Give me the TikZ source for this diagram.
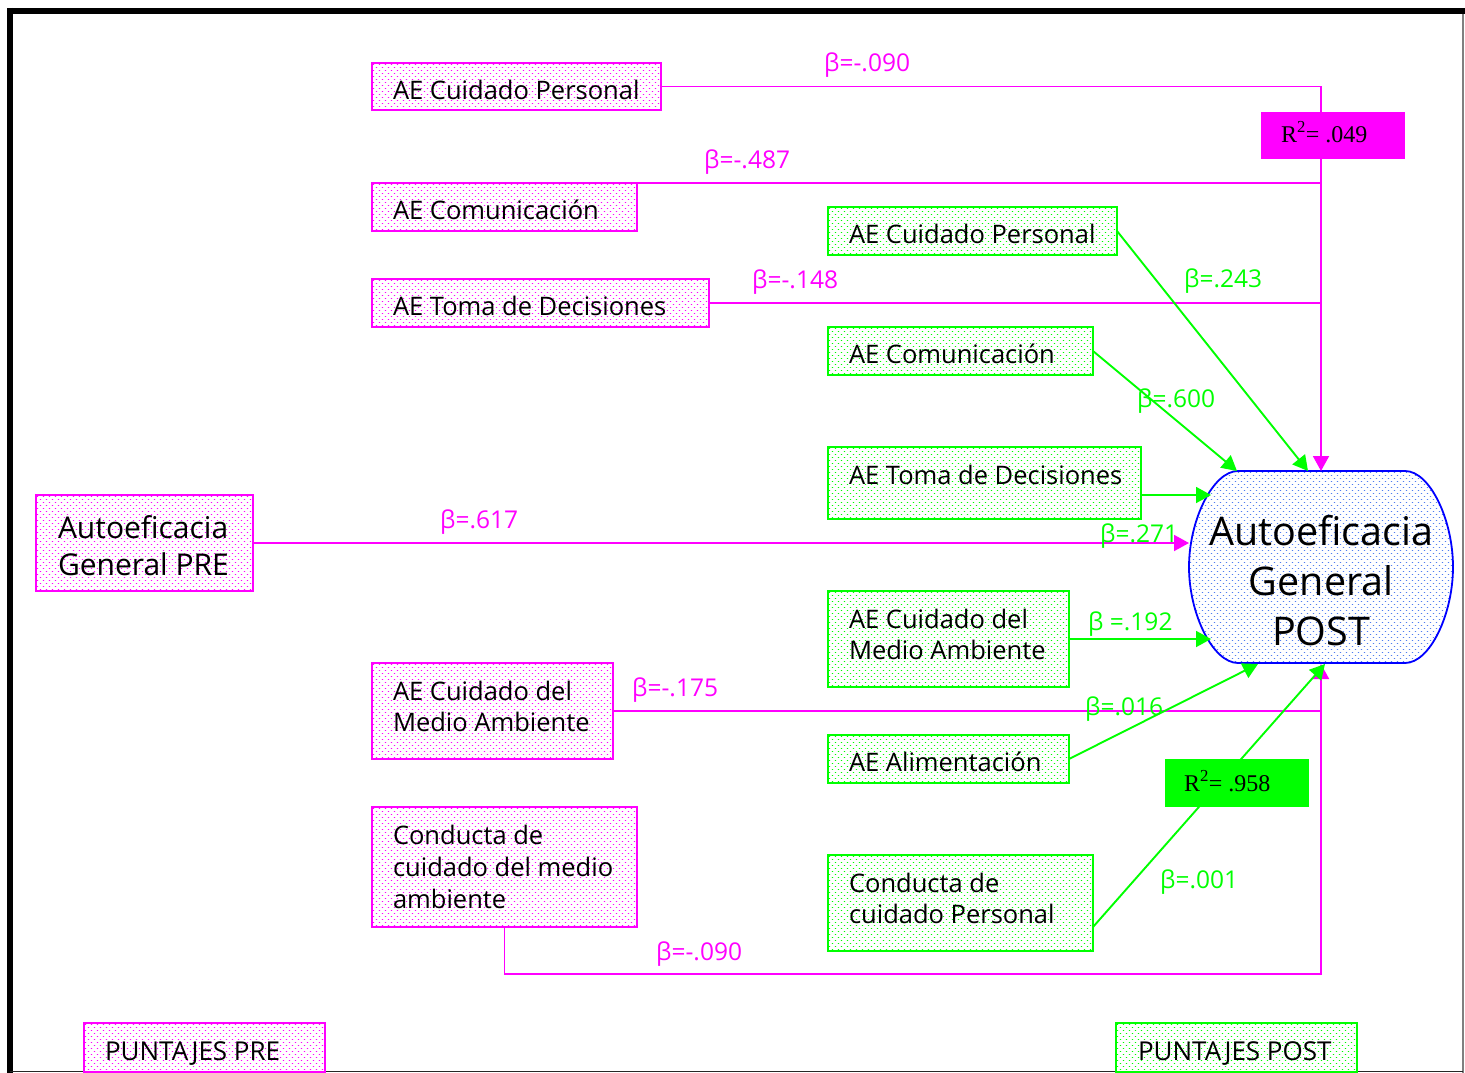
\documentclass[tikz,border=0pt]{standalone}
\usepackage{fontspec}
\setmainfont{Open Sans}
\newfontfamily\tnr{Liberation Serif}
\usetikzlibrary{arrows.meta}

\definecolor{mag}{RGB}{255,0,255}
\definecolor{grn}{RGB}{0,255,0}
\definecolor{blu}{RGB}{0,0,255}
\definecolor{bludot}{RGB}{80,125,240}

% staggered dot screen inside the current clip: colour, x0, y0, x1, y1
\newcommand\screen[5]{%
  \pgfmathtruncatemacro\scrn{(#5-#3)/3}%
  \foreach \j in {0,...,\scrn}{%
    \pgfmathsetmacro\scry{#3+1.5+3*\j}%
    \pgfmathsetmacro\scrx{#2+1.5+3*mod(\j,2)}%
    \draw[#1, line width=1.7pt, line cap=round, dash pattern=on 0.01pt off 5.99pt]
      (\scrx,\scry) -- (#4,\scry);
  }}
% dotted background of a box: colour, x, y, width, height
\newcommand\boxscreen[5]{%
  \begin{scope}
    \clip (#2,#3) rectangle ++(#4,#5);
    \screen{#1}{#2}{#3}{#2+#4}{#3+#5}
  \end{scope}}

% fixed-size text block: width, height, left pad, first baseline, text
\newcommand\boxtext[5]{\parbox[c][#2][t]{#1}{\raggedright\leftskip=#3\relax\parindent=0pt\rule{0pt}{#4}#5\par}}

\tikzset{
  prebox/.style={draw=mag, line width=1.8pt,
    anchor=north west, inner sep=0pt, outer sep=0pt, font=\fontsize{25.5}{31}\selectfont},
  postbox/.style={draw=grn, line width=1.8pt,
    anchor=north west, inner sep=0pt, outer sep=0pt, font=\fontsize{25.5}{31}\selectfont},
  rbox/.style={anchor=north west, inner sep=0pt, outer sep=0pt, font=\tnr\fontsize{24}{28}\selectfont},
  mline/.style={draw=mag, line width=1.9pt},
  gline/.style={draw=grn, line width=1.9pt},
  tip/.style={-{Triangle[length=15pt,width=16pt]}},
  mbeta/.style={text=mag, anchor=base west, inner sep=0pt, font=\fontsize{24.5}{26}\selectfont},
  gbeta/.style={text=grn, anchor=base west, inner sep=0pt, font=\fontsize{24.5}{26}\selectfont}
}

\begin{document}
\begin{tikzpicture}[x=1pt,y=-1pt]
\useasboundingbox (0,0) rectangle (1465,1073);

% page frame
\draw[line width=6pt] (7,11) -- (1465,11);
\draw[line width=6pt] (10,8) -- (10,1073);
\draw[gray, line width=1.5pt] (1463,14) -- (1463,1073);
\draw[black!85, line width=1.5pt] (10,1071.5) -- (1463,1071.5);

% dotted box backgrounds
\boxscreen{mag}{372}{63}{289}{47}
\boxscreen{mag}{372}{183}{265}{48}
\boxscreen{mag}{372}{279}{337}{48}
\boxscreen{mag}{36}{495}{217}{96}
\boxscreen{mag}{372}{663}{241}{96}
\boxscreen{mag}{372}{807}{265}{120}
\boxscreen{mag}{84}{1023}{241}{49}
\boxscreen{grn}{828}{207}{289}{48}
\boxscreen{grn}{828}{327}{265}{48}
\boxscreen{grn}{828}{447}{313}{72}
\boxscreen{grn}{828}{591}{241}{96}
\boxscreen{grn}{828}{735}{241}{48}
\boxscreen{grn}{828}{855}{265}{96}
\boxscreen{grn}{1116}{1023}{241}{49}

% outcome shape
\def\postoutline{(1238,471) -- (1405,471)
  .. controls (1430,471) and (1453,520) .. (1453,567)
  .. controls (1453,614) and (1430,663) .. (1405,663)
  -- (1238,663)
  .. controls (1213,663) and (1189,614) .. (1189,567)
  .. controls (1189,520) and (1213,471) .. (1238,471) -- cycle}
\begin{scope}
  \clip \postoutline;
  \screen{bludot}{1189}{471}{1453}{663}
\end{scope}
\draw[blu, line width=1.8pt] \postoutline;
\node[anchor=north west, inner sep=0pt, font=\fontsize{39.5}{50}\selectfont] (post) at (1189,471)
  {\parbox[c][192pt][t]{264pt}{\centering\rule{0pt}{74pt}Autoeficacia\\General\\POST\par}};

% arrow end points on the outcome shape
\coordinate (tipA) at (1321,471);
\coordinate (tipB) at (1308,471);
\coordinate (tipC) at (1237,471);
\coordinate (tipD) at (1211,495);
\coordinate (tipW) at (1189,543);
\coordinate (tipE) at (1211,639);
\coordinate (tipF) at (1258,664);
\coordinate (tipS) at (1321,664);
\coordinate (tipG) at (1325,664);
% junctions on the magenta collector line
\coordinate (j2) at (1321,183);
\coordinate (j3) at (1321,303);
\coordinate (j5) at (1321,711);
\coordinate (j6) at (1321,974);

% pre-test predictors
\node[prebox] (p1) at (372,63)  {\boxtext{289pt}{47pt}{21pt}{36pt}{AE Cuidado Personal}};
\node[prebox] (p2) at (372,183) {\boxtext{265pt}{48pt}{21pt}{36pt}{AE Comunicación}};
\node[prebox] (p3) at (372,279) {\boxtext{337pt}{48pt}{21pt}{36pt}{AE Toma de Decisiones}};
\node[prebox, font=\fontsize{30}{37}\selectfont] (p4) at (36,495) {\boxtext{217pt}{96pt}{22pt}{43pt}{Autoeficacia\\General PRE}};
\node[prebox] (p5) at (372,663) {\boxtext{241pt}{96pt}{21pt}{37pt}{AE Cuidado del\\Medio Ambiente}};
\node[prebox, font=\fontsize{25.5}{32}\selectfont] (p6) at (372,807) {\boxtext{265pt}{120pt}{21pt}{37pt}{Conducta de\\cuidado del medio\\ambiente}};
\node[prebox, font=\fontsize{26}{31}\selectfont] (p7) at (84,1023) {\boxtext{241pt}{49pt}{21pt}{37pt}{PUNTAJES PRE}};

% post-test predictors
\node[postbox] (g1) at (828,207) {\boxtext{289pt}{48pt}{21pt}{36pt}{AE Cuidado Personal}};
\node[postbox] (g2) at (828,327) {\boxtext{265pt}{48pt}{21pt}{36pt}{AE Comunicación}};
\node[postbox] (g3) at (828,447) {\boxtext{313pt}{72pt}{21pt}{37pt}{AE Toma de Decisiones}};
\node[postbox] (g4) at (828,591) {\boxtext{241pt}{96pt}{21pt}{37pt}{AE Cuidado del\\Medio Ambiente}};
\node[postbox] (g5) at (828,735) {\boxtext{241pt}{48pt}{21pt}{36pt}{AE Alimentación}};
\node[postbox] (g6) at (828,855) {\boxtext{265pt}{96pt}{21pt}{37pt}{Conducta de\\cuidado Personal}};
\node[postbox, font=\fontsize{26}{31}\selectfont] (g7) at (1116,1023) {\boxtext{241pt}{49pt}{22pt}{37pt}{PUNTAJES POST}};

% magenta paths
\draw[mline,tip] (p1.east) -| (tipA);
\draw[mline] (p2.north east) -- (j2);
\draw[mline] (p3.east) -- (j3);
\draw[mline,tip] (p4.east) -- (tipW);
\draw[mline] (p5.east) -- (j5);
\draw[mline,tip] (p6.south) |- (j6) -- (tipS);

% green paths
\draw[gline,tip] (g1.east) -- (tipB);
\draw[gline,tip] (g2.east) -- (tipC);
\draw[gline,tip] ([yshift=-12pt]g3.east) -- (tipD);
\draw[gline,tip] (g4.east) -- (tipE);
\draw[gline,tip] (g5.east) -- (tipF);
\draw[gline,tip] ([yshift=-24pt]g6.east) -- (tipG);

% explained variance
\node[rbox, fill=mag] (r1) at (1261,112) {\boxtext{144pt}{47pt}{20pt}{30pt}{R\textsuperscript{2}= .049}};
\node[rbox, fill=grn] (r2) at (1165,759) {\boxtext{144pt}{48pt}{19pt}{32pt}{R\textsuperscript{2}= .958}};

% coefficients
\node[mbeta] (m1) at (824,72)  {β=-.090};
\node[mbeta] (m2) at (704,168) {β=-.487};
\node[mbeta] (m3) at (752,288) {β=-.148};
\node[mbeta] (m4) at (440,528) {β=.617};
\node[mbeta] (m5) at (632,696) {β=-.175};
\node[mbeta] (m6) at (656,960) {β=-.090};
\node[gbeta] (c1) at (1184,287) {β=.243};
\node[gbeta] (c2) at (1137,407) {β=.600};
\node[gbeta] (c3) at (1100,542) {β=.271};
\node[gbeta] (c4) at (1088,630) {β =.192};
\node[gbeta] (c5) at (1085,715) {β=.016};
\node[gbeta] (c6) at (1160,888) {β=.001};
\end{tikzpicture}
\end{document}
